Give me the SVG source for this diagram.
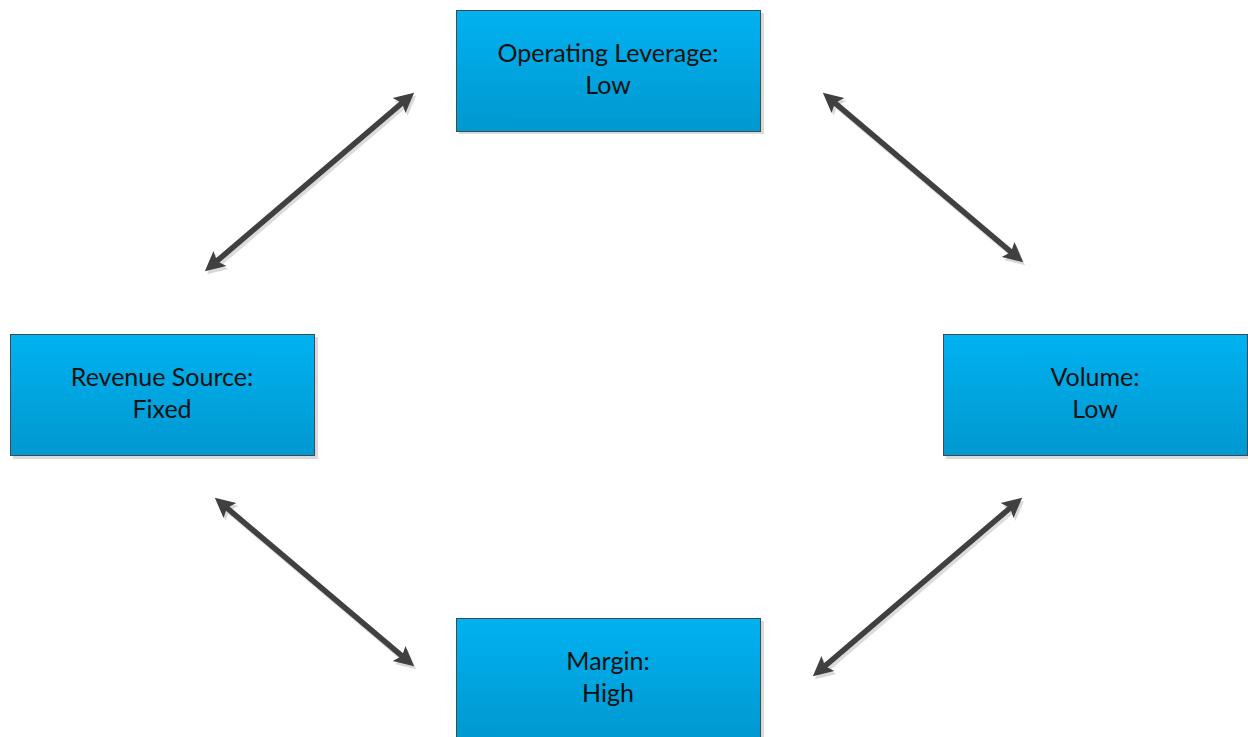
<svg xmlns="http://www.w3.org/2000/svg" width="1248" height="737" viewBox="0 0 1248 737">
<defs>
<linearGradient id="g" x1="0" y1="0" x2="0" y2="1">
<stop offset="0" stop-color="#00B2F0"/>
<stop offset="1" stop-color="#0098D0"/>
</linearGradient>
<marker id="ah" viewBox="0 0 10 10" refX="4" refY="5" markerWidth="4" markerHeight="3.6" orient="auto-start-reverse" markerUnits="strokeWidth">
<path d="M0,0 L10,5 L0,10 L2,5 Z" fill="#404040"/>
</marker>
<marker id="ahs" viewBox="0 0 10 10" refX="4" refY="5" markerWidth="4" markerHeight="3.6" orient="auto-start-reverse" markerUnits="strokeWidth">
<path d="M0,0 L10,5 L0,10 L2,5 Z" fill="#d8d8d8"/>
</marker>
</defs>
<style>
.box{fill:url(#g);stroke:#3f4a52;stroke-width:1}
.sh{fill:#d9d9d9}
.t{font-family:Lato,"Open Sans",sans-serif;font-size:25px;fill:#111;text-anchor:middle}
.c{stroke:#404040;stroke-width:5.5;fill:none;marker-start:url(#ah);marker-end:url(#ah)}
.cs{stroke:#dcdcdc;stroke-width:5.5;fill:none;marker-start:url(#ahs);marker-end:url(#ahs)}
</style>
<rect width="1248" height="737" fill="#fff"/>
<g id="connectors">
<line class="cs" x1="216" y1="266.6" x2="407" y2="103.4"/>
<line class="cs" x1="834" y1="103.4" x2="1016" y2="257.6"/>
<line class="cs" x1="226" y1="508.4" x2="407" y2="661.6"/>
<line class="cs" x1="824" y1="671.6" x2="1015" y2="508.4"/>
<line class="c" x1="213.9" y1="263.6" x2="405.1" y2="100.4"/>
<line class="c" x1="831.9" y1="100.4" x2="1014.1" y2="254.6"/>
<line class="c" x1="223.9" y1="505.4" x2="405.1" y2="658.6"/>
<line class="c" x1="821.9" y1="668.6" x2="1013.1" y2="505.4"/>
</g>
<g id="n-top">
<rect class="sh" x="459" y="13" width="305" height="121"/>
<rect class="box" x="456.5" y="10.5" width="304" height="121"/>
<text class="t" x="608" y="62">Operating Leverage:</text>
<text class="t" x="608" y="94">Low</text>
</g>
<g id="n-left">
<rect class="sh" x="13" y="337" width="305" height="122"/>
<rect class="box" x="10.5" y="334.5" width="304" height="121"/>
<text class="t" x="162" y="386">Revenue Source:</text>
<text class="t" x="162" y="418">Fixed</text>
</g>
<g id="n-right">
<rect class="sh" x="946" y="337" width="305" height="122"/>
<rect class="box" x="943.5" y="334.5" width="304" height="121"/>
<text class="t" x="1095" y="386">Volume:</text>
<text class="t" x="1095" y="418">Low</text>
</g>
<g id="n-bottom">
<rect class="sh" x="459" y="621" width="305" height="122"/>
<rect class="box" x="456.5" y="618.5" width="304" height="122"/>
<text class="t" x="608" y="670">Margin:</text>
<text class="t" x="608" y="702">High</text>
</g>
</svg>
